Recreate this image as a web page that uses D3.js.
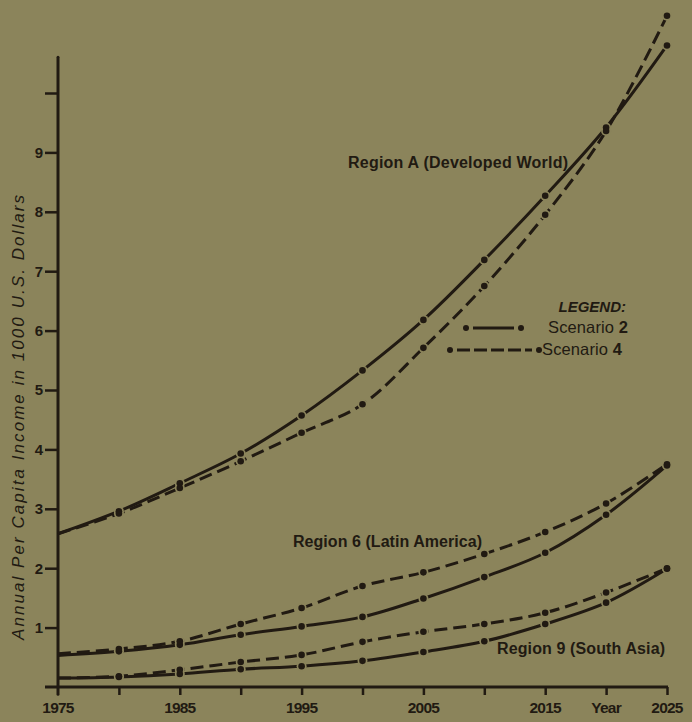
<!DOCTYPE html>
<html>
<head>
<meta charset="utf-8">
<script src="https://cdn.jsdelivr.net/npm/d3@7"></script>
<style>
  html, body { margin: 0; padding: 0; background: #8b845b; }
  svg { display: block; }
  text { font-family: "Liberation Sans", Arial, Helvetica, sans-serif; fill: #211a12; }
</style>
</head>
<body>
<script>
// ---------- data ----------
const years = [1975, 1980, 1985, 1990, 1995, 2000, 2005, 2010, 2015, 2020, 2025];
const regionA_scenario2 = [2.58, 2.96, 3.43, 3.93, 4.57, 5.33, 6.18, 7.19, 8.27, 9.42, 10.80];
const regionA_scenario4 = [2.58, 2.92, 3.35, 3.80, 4.28, 4.76, 5.71, 6.75, 7.95, 9.36, 11.30];
const region6_scenario2 = [0.53, 0.60, 0.71, 0.88, 1.02, 1.18, 1.49, 1.85, 2.26, 2.90, 3.73];
const region6_scenario4 = [0.56, 0.64, 0.77, 1.06, 1.33, 1.70, 1.93, 2.24, 2.61, 3.09, 3.75];
const region9_scenario2 = [0.15, 0.17, 0.22, 0.30, 0.35, 0.44, 0.59, 0.77, 1.06, 1.42, 1.99];
const region9_scenario4 = [0.15, 0.18, 0.29, 0.42, 0.54, 0.76, 0.93, 1.06, 1.25, 1.59, 2.00];

const xTickYears = [1980, 1985, 1990, 1995, 2000, 2005, 2010, 2015, 2020, 2025];
const xTickLabels = [
  {year: 1975, label: "1975"}, {year: 1985, label: "1985"}, {year: 1995, label: "1995"},
  {year: 2005, label: "2005"}, {year: 2015, label: "2015"}, {year: 2020, label: "Year"},
  {year: 2025, label: "2025"}
];
const yTickValues = [1, 2, 3, 4, 5, 6, 7, 8, 9, 10];
const yTickLabels = ["1", "2", "3", "4", "5", "6", "7", "8", "9", ""];
const yTitle = "Annual Per Capita Income in 1000 U.S. Dollars";
const regionLabels = ["Region A (Developed World)", "Region 6 (Latin America)", "Region 9 (South Asia)"];
const legendTitle = "LEGEND:";
const legendEntries = [{name: "Scenario ", num: "2", dashed: false}, {name: "Scenario ", num: "4", dashed: true}];

// ---------- setup ----------
const W = 692, H = 722;
const BG = "#8b845b", INK = "#211a12";
const svg = d3.select("body").append("svg").attr("width", W).attr("height", H);
svg.append("rect").attr("width", W).attr("height", H).attr("fill", BG);

const x = d3.scaleLinear().domain([1975, 2025]).range([58, 667]);
const y = d3.scaleLinear().domain([0, 10]).range([687, 93]);

// ---------- axes ----------
const axisG = svg.append("g");
axisG.append("line").attr("x1", x(1975)).attr("x2", x(1975))
  .attr("y1", y(10.6)).attr("y2", y(-0.12))
  .attr("stroke", INK).attr("stroke-width", 3).attr("stroke-linecap", "round");
axisG.append("line").attr("x1", x(1975) - 13).attr("x2", x(2025) + 1)
  .attr("y1", y(0)).attr("y2", y(0))
  .attr("stroke", INK).attr("stroke-width", 3);

const yAxis = d3.axisLeft(y).tickValues(yTickValues).tickSize(13).tickPadding(2)
  .tickFormat((d, i) => yTickLabels[i]);
const yg = svg.append("g").attr("transform", `translate(${x(1975)},0)`).call(yAxis);
yg.select(".domain").remove();
yg.selectAll(".tick line").attr("stroke", INK).attr("stroke-width", 2.5);
yg.selectAll(".tick text").attr("font-size", 15).attr("font-weight", "bold")
  .attr("fill", INK).attr("font-family", "Liberation Sans, Arial, sans-serif");

const xAxis = d3.axisBottom(x).tickValues(xTickYears).tickSize(8).tickFormat("");
const xg = svg.append("g").attr("transform", `translate(0,${y(0)})`).call(xAxis);
xg.select(".domain").remove();
xg.selectAll(".tick line").attr("stroke", INK).attr("stroke-width", 2.5);

svg.append("g").selectAll("text").data(xTickLabels).join("text")
  .attr("x", d => x(d.year)).attr("y", 713)
  .attr("text-anchor", "middle").attr("font-size", 15.5).attr("font-weight", "bold")
  .attr("letter-spacing", -0.8)
  .text(d => d.label);

// y title
svg.append("text")
  .attr("transform", `translate(24,${(195 + 640) / 2}) rotate(-90)`)
  .attr("text-anchor", "middle").attr("font-size", 17).attr("font-style", "italic")
  .attr("textLength", 445).attr("lengthAdjust", "spacing")
  .text(yTitle);

// ---------- series ----------
const series = [
  {vals: regionA_scenario2, dashed: false},
  {vals: regionA_scenario4, dashed: true},
  {vals: region6_scenario2, dashed: false},
  {vals: region6_scenario4, dashed: true},
  {vals: region9_scenario2, dashed: false},
  {vals: region9_scenario4, dashed: true}
];
const line = d3.line().x(d => x(d[0])).y(d => y(d[1])).curve(d3.curveCatmullRom.alpha(0.5));

const sg = svg.append("g");
series.forEach(s => {
  const pts = years.map((yr, i) => [yr, s.vals[i]]);
  sg.append("path").datum(pts).attr("d", line)
    .attr("fill", "none").attr("stroke", INK).attr("stroke-width", 3)
    .attr("stroke-dasharray", s.dashed ? "13,6" : null);
});
series.forEach(s => {
  const pts = years.map((yr, i) => [yr, s.vals[i]]).filter(d => d[0] > 1975);
  sg.append("g").selectAll("circle").data(pts).join("circle")
    .attr("cx", d => x(d[0])).attr("cy", d => y(d[1])).attr("r", 5)
    .attr("fill", BG);
});
series.forEach(s => {
  const pts = years.map((yr, i) => [yr, s.vals[i]]).filter(d => d[0] > 1975);
  sg.append("g").selectAll("circle").data(pts).join("circle")
    .attr("cx", d => x(d[0])).attr("cy", d => y(d[1])).attr("r", 3.3)
    .attr("fill", INK);
});

// ---------- region labels ----------
svg.append("text").attr("x", 348).attr("y", 168).attr("font-size", 16).attr("font-weight", "bold")
  .attr("textLength", 220).attr("lengthAdjust", "spacing").text(regionLabels[0]);
svg.append("text").attr("x", 293).attr("y", 547).attr("font-size", 16).attr("font-weight", "bold")
  .attr("textLength", 189).attr("lengthAdjust", "spacing").text(regionLabels[1]);
svg.append("text").attr("x", 497).attr("y", 654).attr("font-size", 16).attr("font-weight", "bold")
  .attr("textLength", 168).attr("lengthAdjust", "spacing").text(regionLabels[2]);

// ---------- legend ----------
const lg = svg.append("g");
lg.append("text").attr("x", 626).attr("y", 312).attr("text-anchor", "end")
  .attr("font-size", 15).attr("font-style", "italic").attr("font-weight", "bold")
  .text(legendTitle);
const legendRows = [
  {y: 328, x0: 466, x1: 521, tx: 548, ty: 333},
  {y: 350, x0: 450, x1: 539, tx: 542, ty: 355}
];
legendEntries.forEach((e, i) => {
  const r = legendRows[i];
  lg.append("line").attr("x1", r.x0 + 7).attr("x2", r.x1 - 7).attr("y1", r.y).attr("y2", r.y)
    .attr("stroke", INK).attr("stroke-width", 3)
    .attr("stroke-dasharray", e.dashed ? "13,4" : null);
  [r.x0, r.x1].forEach(cx => lg.append("circle").attr("cx", cx).attr("cy", r.y).attr("r", 3).attr("fill", INK));
  const t = lg.append("text").attr("x", r.tx).attr("y", r.ty).attr("font-size", 16.5)
    .attr("textLength", 80).attr("lengthAdjust", "spacing");
  t.append("tspan").text(e.name);
  t.append("tspan").attr("font-weight", "bold").text(e.num);
});
</script>
</body>
</html>
